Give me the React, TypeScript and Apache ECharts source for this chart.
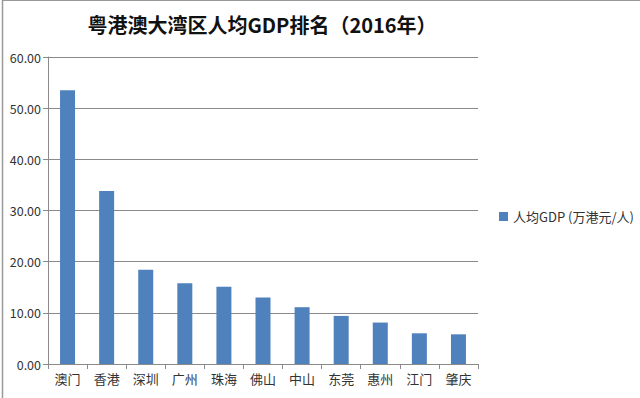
import React, { useEffect, useRef } from "react";
import * as echarts from "echarts";

const categories = ["澳门", "香港", "深圳", "广州", "珠海", "佛山", "中山", "东莞", "惠州", "江门", "肇庆"];
const values = [53.5, 33.8, 18.4, 15.8, 15.1, 13.0, 11.1, 9.4, 8.1, 6.0, 5.8];
const seriesName = "人均GDP (万港元/人)";
const titleText = "粤港澳大湾区人均GDP排名（2016年）";

export default function App() {
  const ref = useRef<HTMLDivElement>(null);
  useEffect(() => {
    document.body.style.margin = "0";
    const chart = echarts.init(ref.current!, null, { renderer: "svg" });
    chart.setOption({
      animation: false,
      backgroundColor: "#ffffff",
      textStyle: { fontFamily: "'Noto Sans CJK SC', 'Noto Sans', sans-serif" },
      title: {
        text: titleText,
        left: 257,
        textAlign: "center",
        top: 9,
        textStyle: { fontSize: 20, fontWeight: "bold", color: "#111" },
      },
      legend: {
        data: [seriesName],
        orient: "vertical",
        left: 494,
        top: 205,
        itemWidth: 9,
        itemHeight: 9,
        itemGap: 4,
        icon: "rect",
        textStyle: { fontSize: 13, color: "#333" },
      },
      grid: { left: 48, right: 162, top: 57, bottom: 34, containLabel: false },
      xAxis: {
        type: "category",
        data: categories,
        axisLine: { lineStyle: { color: "#8a8a8a" } },
        axisTick: { show: true, length: 5, lineStyle: { color: "#8a8a8a" } },
        axisLabel: { fontSize: 13, color: "#333", margin: 8 },
      },
      yAxis: {
        type: "value",
        min: 0,
        max: 60,
        interval: 10,
        axisLine: { show: true, lineStyle: { color: "#8a8a8a" } },
        axisTick: { show: true, length: 5, lineStyle: { color: "#8a8a8a" } },
        axisLabel: { fontSize: 12.5, color: "#333", margin: 7, formatter: (v: number) => v.toFixed(2) },
        splitLine: { lineStyle: { color: "#8a8a8a" } },
      },
      series: [
        {
          name: seriesName,
          type: "bar",
          data: values,
          barWidth: 15,
          itemStyle: { color: "#4f81bd" },
        },
      ],
      graphic: [
        {
          type: "line",
          shape: { x1: 2, y1: 0, x2: 640, y2: 0 },
          style: { stroke: "#999", lineWidth: 2 },
        },
        {
          type: "line",
          shape: { x1: 2.5, y1: 0, x2: 2.5, y2: 398 },
          style: { stroke: "#999", lineWidth: 1.5 },
        },
      ],
    });
    return () => chart.dispose();
  }, []);
  return <div ref={ref} style={{ width: 640, height: 398 }} />;
}
